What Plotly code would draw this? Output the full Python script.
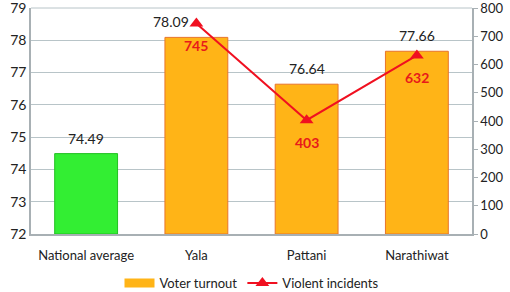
import plotly.graph_objects as go

categories = ["National average", "Yala", "Pattani", "Narathiwat"]
turnout = [74.49, 78.09, 76.64, 77.66]
incident_cats = ["Yala", "Pattani", "Narathiwat"]
incidents = [745, 403, 632]

FONT = "Lato"
ORANGE = "#ffb417"
ORANGE_LINE = "#e8742a"
GREEN = "#33ee33"
GREEN_LINE = "#22c022"
RED = "#f01020"
GRID = "#b8c4c8"

fig = go.Figure()
fig.add_trace(go.Bar(
    x=categories[:1], y=[v - 72 for v in turnout[:1]], base=72,
    marker=dict(color=GREEN, line=dict(color=GREEN_LINE, width=1)),
    showlegend=False, hoverinfo="skip",
))
fig.add_trace(go.Bar(
    x=categories[1:], y=[v - 72 for v in turnout[1:]], base=72,
    marker=dict(color=ORANGE, line=dict(color=ORANGE_LINE, width=1)),
    showlegend=False, hoverinfo="skip",
))
fig.add_trace(go.Scatter(x=[None], y=[None], mode="lines",
                         line=dict(color=ORANGE, width=9), name="Voter turnout"))
fig.add_trace(go.Scatter(
    x=incident_cats, y=incidents, mode="lines+markers",
    line=dict(color=RED, width=2),
    marker=dict(symbol="triangle-up", size=12, color=RED),
    name="Violent incidents", yaxis="y2",
))

for c, v in zip(categories, turnout):
    fig.add_annotation(x=c, y=v, yref="y", text=f"{v:.2f}", showarrow=False,
                       yanchor="bottom", yshift=5, xshift=(-25 if c == "Yala" else 0),
                       font=dict(family=FONT, size=14, color="#222222"))
for c, v in zip(incident_cats, incidents):
    fig.add_annotation(x=c, y=v, yref="y2", text=f"<b>{v}</b>", showarrow=False,
                       yanchor="middle", yshift=-22,
                       font=dict(family=FONT, size=14, color="#e81a1a"))

fig.add_shape(type="line", xref="paper", x0=0, x1=1, yref="paper", y0=1, y1=1,
              line=dict(color=GRID, width=1), layer="below")

fig.update_layout(
    width=510, height=292,
    margin=dict(l=31, r=38, t=8, b=58, autoexpand=False),
    paper_bgcolor="white", plot_bgcolor="white",
    barmode="overlay", bargap=0.43,
    showlegend=True,
    legend=dict(orientation="h", x=0.5, xanchor="center", y=-0.217, yanchor="middle",
                font=dict(family=FONT, size=13, color="#222222"),
                traceorder="normal"),
    xaxis=dict(showline=True, linecolor="#a8b0b4", linewidth=1.5, ticks="",
               automargin=False, ticklabelstandoff=9,
               tickfont=dict(family=FONT, size=13, color="#222222")),
    yaxis=dict(range=[72, 79], tickvals=[72, 73, 74, 75, 76, 77, 78, 79],
               showgrid=True, gridcolor=GRID, gridwidth=1,
               showline=True, linecolor="#a8b0b4", linewidth=1.5, ticks="",
               automargin=False, ticklabeloverflow="allow",
               tickfont=dict(family=FONT, size=14, color="#222222"), zeroline=False),
    yaxis2=dict(range=[0, 800], tickvals=list(range(0, 801, 100)), overlaying="y",
                side="right", showgrid=False,
                showline=True, linecolor="#a8b0b4", linewidth=1.5, ticks="outside",
                ticklen=4, tickcolor="#a8b0b4", automargin=False, ticklabeloverflow="allow",
                tickfont=dict(family=FONT, size=13, color="#222222"), zeroline=False),
    font=dict(family=FONT),
)

fig.write_html("out.html", config={"displayModeBar": False},
               post_script="document.body.style.margin='0';")
